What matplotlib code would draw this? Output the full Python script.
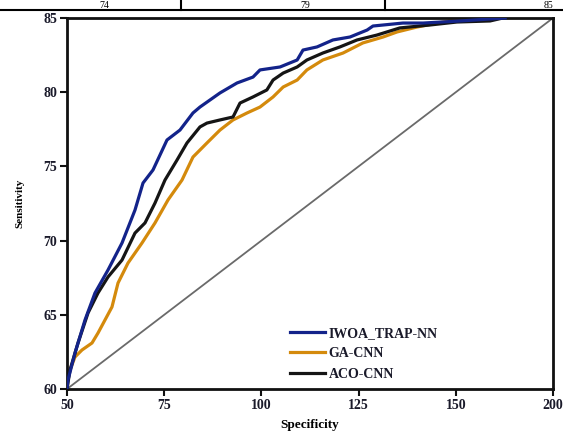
import matplotlib
matplotlib.use("Agg")
import matplotlib.pyplot as plt
from matplotlib.lines import Line2D

# ---- data ----
x_ticks = [50, 75, 100, 125, 150, 175]
x_tick_labels = ["50", "75", "100", "125", "150", "200"]
y_ticks = [60, 65, 70, 75, 80, 85]

iwoa_x = [50, 50.26, 52.06, 54.63, 57.2, 60.55, 64.15, 67.49, 69.55, 72.12, 75.72,
          79.06, 82.4, 84.2, 89.35, 93.72, 97.84, 99.64, 104.8, 109.2, 110.7, 114.3,
          118.4, 122.8, 127.2, 128.7, 136.4, 141.6, 151.1, 162.7]
iwoa_y = [60, 60.61, 62.43, 64.65, 66.47, 68.02, 69.84, 72.06, 73.88, 74.76, 76.78,
          77.45, 78.6, 79.0, 79.95, 80.62, 81.02, 81.5, 81.7, 82.17, 82.84, 83.05,
          83.52, 83.72, 84.19, 84.46, 84.66, 84.66, 84.8, 85.0]

ga_x = [50, 50, 50.77, 52.06, 53.86, 56.43, 57.97, 59.77, 61.57, 63.12, 65.69, 69.29,
        72.63, 75.98, 79.58, 82.4, 86.0, 89.35, 92.7, 96.3, 99.64, 103.0, 105.6, 109.2,
        111.7, 115.8, 121.0, 126.1, 131.3, 134.9, 140.0, 145.2, 152.9, 160.6]
ga_y = [60, 60.74, 61.28, 62.16, 62.63, 63.1, 63.77, 64.65, 65.53, 67.14, 68.49, 69.84,
        71.19, 72.74, 74.08, 75.63, 76.58, 77.45, 78.13, 78.6, 79.0, 79.68, 80.35, 80.82,
        81.5, 82.17, 82.64, 83.32, 83.72, 84.06, 84.39, 84.66, 85.0, 85.0]

aco_x = [50, 50.77, 52.83, 55.4, 57.97, 60.55, 64.15, 67.49, 70.06, 72.63, 75.2, 78.3,
         80.86, 84.2, 86.0, 89.35, 92.7, 94.5, 97.84, 101.4, 103.0, 105.6, 109.2, 111.7,
         115.8, 120.2, 124.6, 129.7, 135.6, 143.4, 150.3, 158.8, 162.1]
aco_y = [60, 61.28, 63.1, 65.12, 66.47, 67.55, 68.69, 70.51, 71.19, 72.53, 74.08, 75.43,
         76.58, 77.66, 77.92, 78.13, 78.33, 79.27, 79.68, 80.15, 80.82, 81.29, 81.7, 82.17,
         82.64, 83.05, 83.52, 83.85, 84.33, 84.53, 84.73, 84.8, 85.0]

diag_x = [50, 175]
diag_y = [60, 85]

series_names = ["IWOA_TRAP-NN", "GA-CNN", "ACO-CNN"]
table_values = ["74", "79", "85"]

# ---- figure ----
fig = plt.figure(figsize=(5.63, 4.32), dpi=100)
ax = fig.add_axes([67 / 563, 43 / 432, 486 / 563, 371 / 432])

serif = ["Liberation Serif", "DejaVu Serif"]
blue = "#13238a"
orange = "#d48a0c"
black = "#151515"

ax.plot(diag_x, diag_y, color="#6a6a6a", lw=1.3, zorder=1)
ax.plot(ga_x, ga_y, color=orange, lw=2.3, zorder=2)
ax.plot(aco_x, aco_y, color=black, lw=2.3, zorder=3)
ax.plot(iwoa_x, iwoa_y, color=blue, lw=2.3, zorder=4)

ax.set_xlim(50, 175)
ax.set_ylim(60, 85)
ax.set_xticks(x_ticks)
ax.set_xticklabels(x_tick_labels)
ax.set_yticks(y_ticks)

for s in ax.spines.values():
    s.set_linewidth(2.0)
    s.set_color("#111111")
ax.tick_params(axis="both", direction="out", length=5, width=1.5, colors="#111111",
               labelsize=10, pad=2)
for lab in ax.get_xticklabels() + ax.get_yticklabels():
    lab.set_fontfamily(serif)
    lab.set_fontweight("bold")
    lab.set_color("#1a1a2a")

ax.set_xlabel("Specificity", fontfamily=serif, fontweight="bold", fontsize=9.5, labelpad=5)
ax.set_ylabel("Sensitivity", fontfamily=serif, fontweight="bold", fontsize=8, labelpad=14)

handles = [Line2D([], [], color=blue, lw=2.3),
           Line2D([], [], color=orange, lw=2.3),
           Line2D([], [], color=black, lw=2.3)]
leg = ax.legend(handles, series_names, loc="lower left", bbox_to_anchor=(0.433, -0.012),
                frameon=False, handlelength=2.5, handletextpad=0.3, labelspacing=0.55,
                prop={"family": serif, "weight": "bold", "size": 10})
for t in leg.get_texts():
    t.set_color("#1a1a2a")

# cropped table fragment at top of the image
fig.add_artist(Line2D([0, 1], [1 - 10 / 432, 1 - 10 / 432], transform=fig.transFigure,
                      color="black", lw=1.5))
for xp in [181, 385]:
    fig.add_artist(Line2D([xp / 563, xp / 563], [1 - 10 / 432, 1], transform=fig.transFigure,
                          color="black", lw=1.5))
for xp, val in zip([104, 305, 548], table_values):
    fig.text(xp / 563, 1 - 10.5 / 432, val, fontfamily=serif, fontsize=7,
             ha="center", va="bottom")

fig.savefig("out.png", dpi=100)
